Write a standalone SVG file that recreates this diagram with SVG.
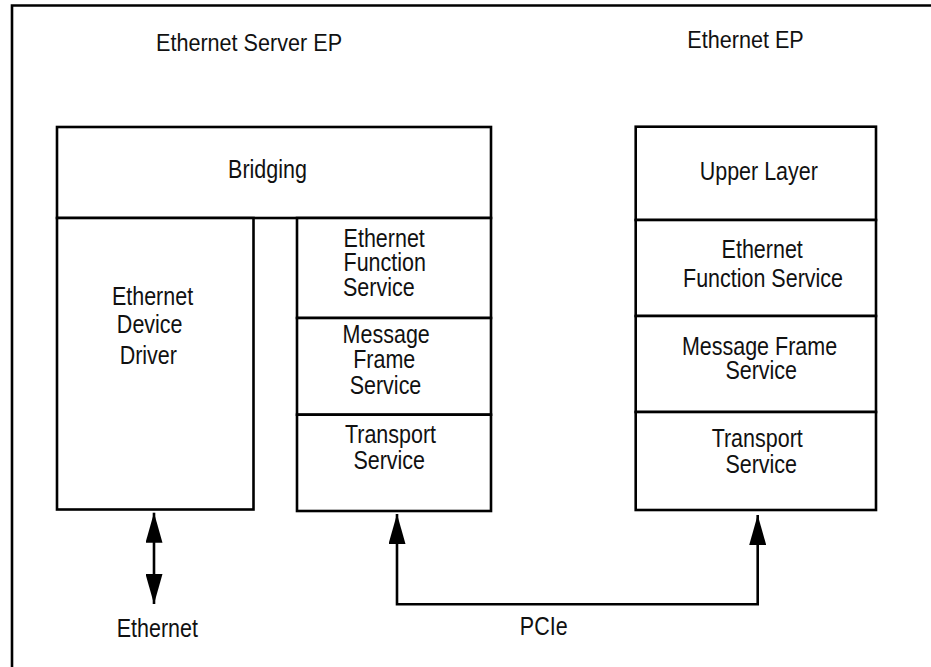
<svg xmlns="http://www.w3.org/2000/svg" width="931" height="667" viewBox="0 0 931 667">
<style>
.box{fill:#fff;stroke:#000;stroke-width:2.6}
.ln{fill:none;stroke:#000;stroke-width:2.6}
.t{font-family:"Liberation Sans",Arial,sans-serif;font-size:25px;fill:#111;text-anchor:middle}
.tt{font-family:"Liberation Sans",Arial,sans-serif;font-size:24px;fill:#111;text-anchor:middle}
</style>
<defs>
<marker id="ah" markerUnits="userSpaceOnUse" markerWidth="30" markerHeight="17" viewBox="0 0 30 17" refX="30" refY="8.5" orient="auto-start-reverse">
<path d="M0,0 L30,8.5 L0,17 z" fill="#000"/>
</marker>
</defs>
<rect width="931" height="667" fill="#fff"/>
<g id="frame">
<path class="ln" d="M12,667 L12,5.5 L931,5.5" stroke-width="3"/>
</g>
<g id="titles">
<text class="tt" transform="translate(249,51) scale(0.9,1)">Ethernet Server EP</text>
<text class="tt" transform="translate(745.5,48) scale(0.9,1)">Ethernet EP</text>
</g>
<g id="bridging">
<rect class="box" x="57" y="127" width="434" height="91"/>
<text class="t" transform="translate(267.5,178.3) scale(0.86,1)">Bridging</text>
</g>
<g id="device-driver">
<rect class="box" x="57" y="218" width="196.5" height="291.5"/>
<text class="t" transform="translate(152.5,305) scale(0.86,1)">Ethernet</text>
<text class="t" transform="translate(149.7,333.3) scale(0.86,1)">Device</text>
<text class="t" transform="translate(148.3,364.3) scale(0.86,1)">Driver</text>
</g>
<g id="server-efs">
<rect class="box" x="297" y="218" width="194" height="100"/>
<text class="t" transform="translate(384.2,246.7) scale(0.86,1)">Ethernet</text>
<text class="t" transform="translate(384.7,270.7) scale(0.86,1)">Function</text>
<text class="t" transform="translate(378.8,295.7) scale(0.86,1)">Service</text>
</g>
<g id="server-mfs">
<rect class="box" x="297" y="318" width="194" height="96.7"/>
<text class="t" transform="translate(386.2,342.7) scale(0.86,1)">Message</text>
<text class="t" transform="translate(384.2,368.3) scale(0.86,1)">Frame</text>
<text class="t" transform="translate(385.5,394) scale(0.86,1)">Service</text>
</g>
<g id="server-ts">
<rect class="box" x="297" y="414.7" width="194" height="96.3"/>
<text class="t" transform="translate(390.5,443.3) scale(0.86,1)">Transport</text>
<text class="t" transform="translate(389.2,469.3) scale(0.86,1)">Service</text>
</g>
<g id="upper-layer">
<rect class="box" x="635.7" y="126.7" width="240.3" height="93.3"/>
<text class="t" transform="translate(758.8,180) scale(0.86,1)">Upper Layer</text>
</g>
<g id="ep-efs">
<rect class="box" x="635.7" y="220" width="240.3" height="96"/>
<text class="t" transform="translate(762.2,258.3) scale(0.86,1)">Ethernet</text>
<text class="t" transform="translate(763,286.7) scale(0.86,1)">Function Service</text>
</g>
<g id="ep-mfs">
<rect class="box" x="635.7" y="316" width="240.3" height="96"/>
<text class="t" transform="translate(759.5,355) scale(0.86,1)">Message Frame</text>
<text class="t" transform="translate(761.2,379.3) scale(0.86,1)">Service</text>
</g>
<g id="ep-ts">
<rect class="box" x="635.7" y="412" width="240.3" height="98"/>
<text class="t" transform="translate(757.2,446.7) scale(0.86,1)">Transport</text>
<text class="t" transform="translate(761.2,472.7) scale(0.86,1)">Service</text>
</g>
<g id="connectors">
<path class="ln" d="M154,512.7 L154,604" marker-start="url(#ah)" marker-end="url(#ah)"/>
<path class="ln" d="M397,514 L397,604.3 L757.7,604.3 L757.7,515" marker-start="url(#ah)" marker-end="url(#ah)"/>
</g>
<g id="labels">
<text class="t" transform="translate(157.3,637.3) scale(0.86,1)">Ethernet</text>
<text class="t" transform="translate(543.7,635) scale(0.86,1)">PCIe</text>
</g>
</svg>
